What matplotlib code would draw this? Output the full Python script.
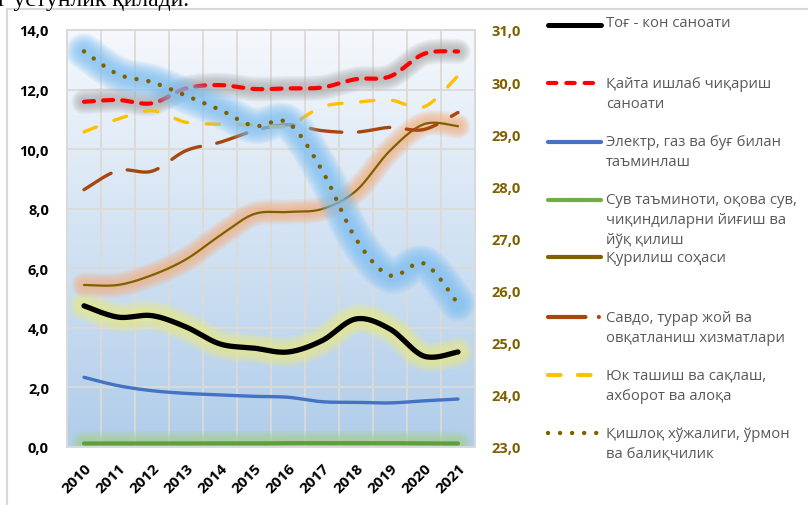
import numpy as np
import matplotlib
matplotlib.use("Agg")
import matplotlib.pyplot as plt
from matplotlib.lines import Line2D
from matplotlib.patches import Rectangle

years = ["2010", "2011", "2012", "2013", "2014", "2015", "2016", "2017", "2018", "2019", "2020", "2021"]
mining = [4.74, 4.36, 4.41, 4.03, 3.46, 3.32, 3.19, 3.57, 4.30, 3.96, 3.05, 3.19]
manufacturing = [11.59, 11.65, 11.54, 12.04, 12.15, 12.02, 12.04, 12.07, 12.35, 12.44, 13.20, 13.28]
electricity = [2.34, 2.06, 1.89, 1.80, 1.75, 1.70, 1.67, 1.52, 1.50, 1.48, 1.55, 1.61]
water = [0.12, 0.12, 0.12, 0.12, 0.12, 0.12, 0.13, 0.13, 0.13, 0.13, 0.12, 0.12]
construction = [5.44, 5.44, 5.77, 6.30, 7.10, 7.82, 7.89, 7.99, 8.60, 9.95, 10.84, 10.77]
trade = [8.64, 9.28, 9.26, 9.95, 10.23, 10.62, 10.82, 10.62, 10.57, 10.73, 10.66, 11.23]
transport = [10.58, 11.01, 11.29, 10.90, 10.84, 10.81, 10.79, 11.42, 11.57, 11.65, 11.42, 12.46]
agriculture = [30.59, 30.15, 30.00, 29.74, 29.47, 29.16, 29.22, 28.31, 26.99, 26.29, 26.52, 25.75]

labels = ["Тоғ - кон саноати",
          "Қайта ишлаб чиқариш\nсаноати",
          "Электр, газ ва буғ билан\nтаъминлаш",
          "Сув таъминоти, оқова сув,\nчиқиндиларни йиғиш ва\nйўқ қилиш",
          "Қурилиш соҳаси",
          "Савдо, турар жой ва\nовқатланиш хизматлари",
          "Юк ташиш ва сақлаш,\nахборот ва алоқа",
          "Қишлоқ хўжалиги, ўрмон\nва балиқчилик"]

left_ticks = [0, 2, 4, 6, 8, 10, 12, 14]
right_ticks = [23, 24, 25, 26, 27, 28, 29, 30, 31]

FONT = ["Open Sans", "Noto Sans", "DejaVu Sans"]
plt.rcParams['font.family'] = FONT


def smooth(vals, n=24):
    y = np.asarray(vals, float)
    x = np.arange(len(y), dtype=float)
    P = np.column_stack([x, y])
    out = []
    for i in range(len(P) - 1):
        p0 = P[i - 1] if i > 0 else P[i]
        p1 = P[i]
        p2 = P[i + 1]
        p3 = P[i + 2] if i + 2 < len(P) else P[i + 1]
        c1 = p1 + (p2 - p0) / 6.0
        c2 = p2 - (p3 - p1) / 6.0
        t = np.linspace(0, 1, n, endpoint=(i == len(P) - 2))[:, None]
        seg = ((1 - t) ** 3) * p1 + 3 * ((1 - t) ** 2) * t * c1 + 3 * (1 - t) * t ** 2 * c2 + t ** 3 * p2
        out.append(seg)
    s = np.vstack(out)
    return s[:, 0], s[:, 1]


def glow(ax, xs, ys, color, width, zorder, alpha=0.13, layers=9):
    for f in np.linspace(1.0, 0.3, layers):
        ax.plot(xs, ys, color=color, lw=width * f, alpha=alpha, solid_capstyle='round',
                solid_joinstyle='round', zorder=zorder)


W, H = 808, 506
fig = plt.figure(figsize=(W / 100, H / 100), dpi=100)
fig.patch.set_facecolor("white")

# top cut-off text (partially visible in the reference)
fig.text(-2 / W, 1 - 6 / H, "г устунлик қилади.", fontsize=17, family=["Liberation Serif", "DejaVu Serif"],
         ha="left", va="baseline", color="black")

# chart border
fig.add_artist(Rectangle((7 / W, -0.1), 1.2, (1 - 9.5 / H) + 0.1, transform=fig.transFigure,
                         fill=False, edgecolor="#d9d9d9", lw=1.5, zorder=0))

ax = fig.add_axes([67 / W, (H - 448) / H, 408 / W, 417 / H])
ax2 = ax.twinx()

# gradient background
grad = np.linspace(0, 1, 256)[:, None]
c_top = np.array([0xf5, 0xf8, 0xfc]) / 255
c_bot = np.array([0xb0, 0xcd, 0xea]) / 255
img = c_top[None, None, :] * (1 - grad[:, :, None]) + c_bot[None, None, :] * grad[:, :, None]
ax.imshow(img, extent=[0, 1, 0, 1], transform=ax.transAxes, aspect='auto', zorder=0)

n = len(years)
xpos = np.arange(n)
ax.set_xlim(-0.5, n - 0.5)
ax.set_ylim(0, 14)
ax2.set_ylim(23, 31)

for v in left_ticks:
    ax.axhline(v, color="#dcdad7", lw=1.3, zorder=1)
for b in np.arange(-0.5, n, 1.0):
    ax.axvline(b, color="#dcdad7", lw=1.3, zorder=1)

ax.set_yticks(left_ticks)
ax.set_yticklabels([f"{v:.1f}".replace(".", ",") for v in left_ticks], fontsize=10.5, fontweight="bold",
                   color="black")
ax2.set_yticks(right_ticks)
ax2.set_yticklabels([f"{v:.1f}".replace(".", ",") for v in right_ticks], fontsize=10.5, fontweight="bold",
                    color="#7f6000")
ax.set_xticks(xpos)
ax.set_xticklabels(years, rotation=45, ha="right", va="top", rotation_mode="anchor", fontsize=11,
                   fontweight="bold")
ax.tick_params(axis="y", length=0, pad=13)
ax.tick_params(axis="x", length=0, pad=10)
ax2.tick_params(axis="y", length=0, pad=12)
for a in (ax, ax2):
    for s in a.spines.values():
        s.set_color("#d9d9d9")
        s.set_linewidth(1.2)

# series on left axis
x, y = smooth(water)
glow(ax, x, y, "#a9d18e", 18, 2)
ax.plot(x, y, color="#5fa03c", lw=3, zorder=3, solid_capstyle='round')

x, y = smooth(electricity)
ax.plot(x, y, color="#4472c4", lw=2.4, zorder=3, solid_capstyle='round')

x, y = smooth(mining)
glow(ax, x, y, "#eeec80", 22, 2)
ax.plot(x, y, color="black", lw=3.8, zorder=4, solid_capstyle='round')

x, y = smooth(construction)
glow(ax, x, y, "#f4b183", 18, 2)
ax.plot(x, y, color="#7f6000", lw=1.6, zorder=4, solid_capstyle='round')

x, y = smooth(trade)
ax.plot(x, y, color="#a5470e", lw=2.4, zorder=4, linestyle=(0, (9.5, 5.0)), dash_capstyle='round')

x, y = smooth(transport)
ax.plot(x, y, color="#ffc000", lw=2.4, zorder=4, linestyle=(0, (4.0, 5.6)), dash_capstyle='round')

x, y = smooth(manufacturing)
glow(ax, x, y, "#a8a8a8", 18, 2, alpha=0.11)
ax.plot(x, y, color="#ff0000", lw=3.0, zorder=5, linestyle=(0, (2.4, 2.2)), dash_capstyle='round')

# agriculture on right axis
ax2.set_zorder(ax.get_zorder() + 1)
ax2.patch.set_visible(False)
x, y = smooth(agriculture)
glow(ax2, x, y, "#7dbff2", 26, 2, alpha=0.14)
ax2.plot(x, y, color="#7f6000", lw=3.2, zorder=4, linestyle=(0, (0.01, 2.7)), dash_capstyle='round')

# legend (manual)
lx0, lx1, tx = 548, 601, 606
entries = [
    (26, dict(color="black", lw=3.6, solid_capstyle='round'), [24]),
    (84, dict(color="#ff0000", lw=3.0, linestyle=(0, (2.0, 2.4)), dash_capstyle='round'), [84, 104]),
    (143, dict(color="#4472c4", lw=3.0, solid_capstyle='round'), [143, 163]),
    (201, dict(color="#70ad47", lw=3.0, solid_capstyle='round'), [201, 221, 241]),
    (258, dict(color="#7f6000", lw=3.0, solid_capstyle='round'), [258]),
    (318, dict(color="#a5470e", lw=3.0, linestyle=(0, (9.0, 3.2, 0.01, 3.2)), dash_capstyle='round'), [318, 339]),
    (376, dict(color="#ffc000", lw=3.0, linestyle=(0, (3.0, 4.2)), dash_capstyle='round'), [376, 397]),
    (434, dict(color="#7f6000", lw=3.2, linestyle=(0, (0.01, 2.7)), dash_capstyle='round'), [434, 455]),
]
for (ly, style, tys), lab in zip(entries, labels):
    fig.add_artist(Line2D([lx0 / W, lx1 / W], [1 - ly / H, 1 - ly / H], transform=fig.transFigure, **style))
    for tyy, line in zip(tys, lab.split("\n")):
        fig.text(tx / W, 1 - tyy / H, line, fontsize=10.7, color="#595959", ha="left", va="center")

fig.savefig("out.png", dpi=100)
